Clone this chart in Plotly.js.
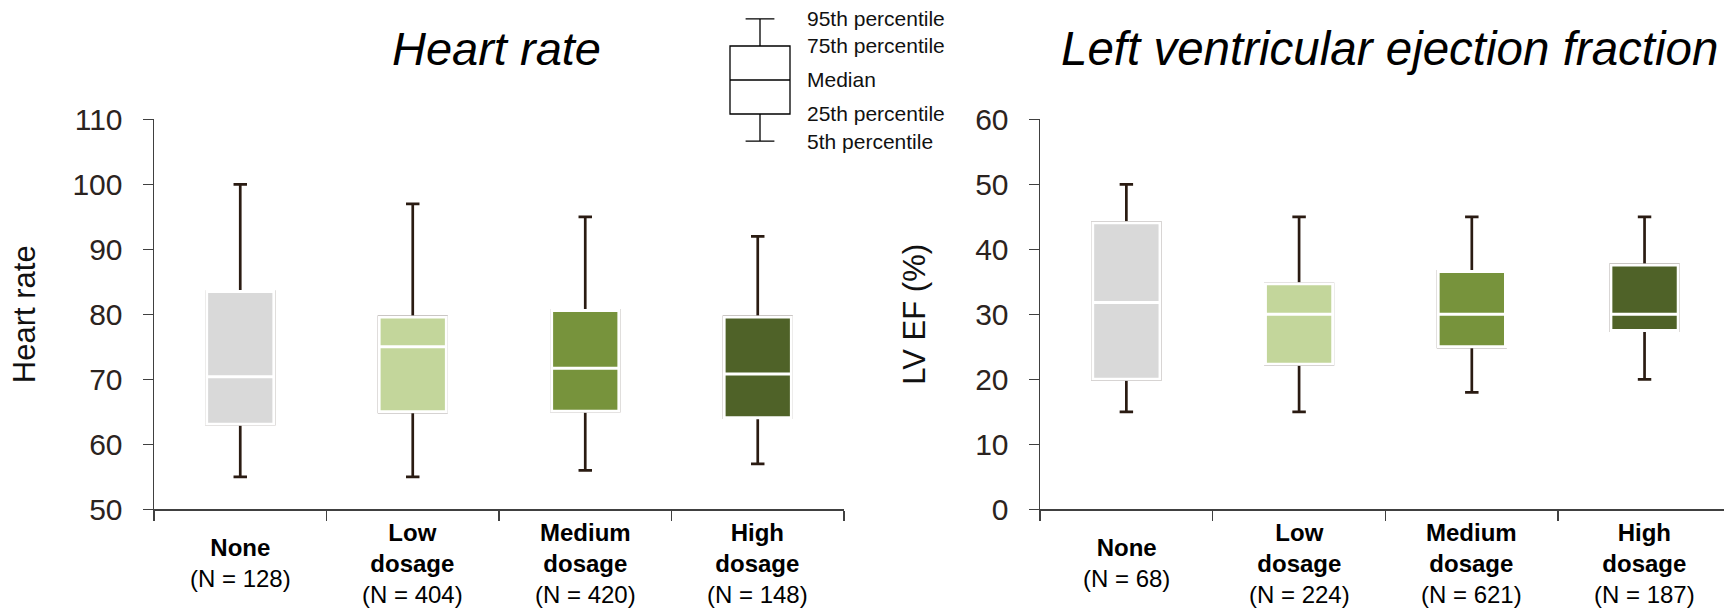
<!DOCTYPE html>
<html><head><meta charset="utf-8">
<script src="https://cdn.plot.ly/plotly-3.0.1.min.js"></script>
<style>html,body{margin:0;padding:0;background:#fff;} #chart{width:1724px;height:613px;}</style>
</head><body><div id="chart"></div>
<script>
// ---- data ----
const categories = ['None', 'Low dosage', 'Medium dosage', 'High dosage'];
const hrN = [128, 404, 420, 148];
const efN = [68, 224, 621, 187];

const hrP5     = [55, 55, 56, 57];
const hrP25    = [63.1, 65, 65.1, 64.1];
const hrMedian = [70.4, 75, 71.7, 70.8];
const hrP75    = [83.5, 79.6, 80.6, 79.6];
const hrP95    = [100, 97, 95, 92];

const efP5     = [15, 15, 18, 20];
const efP25    = [20, 22.3, 25, 27.5];
const efMedian = [31.8, 30, 30, 30];
const efP75    = [44.1, 34.7, 36.6, 37.6];
const efP95    = [50, 45, 45, 45];

const boxColors = ['#d9d9d9', '#c3d69b', '#77933c', '#4f6228'];

const keyPercentiles = [5, 25, 50, 75, 95];
const keyLabels = ['5th percentile', '25th percentile', 'Median', '75th percentile', '95th percentile'];

// ---- helpers ----
const FONT = 'Arial, "Liberation Sans", Helvetica, sans-serif';
const W = 1724, H = 613;
const BOXW = 0.39;
const WHISKER = '#2a1b12';
const AXIS = '#404040';
const TICKTXT = '#2b2320';

function boxTraces(p5, p25, med, p75, p95, xa, ya) {
  const out = [];
  // whiskers (drawn first, dark)
  out.push({
    type: 'box', x: categories, q1: p25, median: med, q3: p75,
    lowerfence: p5, upperfence: p95,
    xaxis: xa, yaxis: ya, width: BOXW, whiskerwidth: 0.2,
    line: {color: WHISKER, width: 2.7}, fillcolor: 'rgba(0,0,0,0)',
    boxpoints: false, hoverinfo: 'skip', showlegend: false
  });
  // coloured boxes with white median, on top
  categories.forEach((c, i) => {
    out.push({
      type: 'box', x: [c], q1: [p25[i]], median: [med[i]], q3: [p75[i]],
      lowerfence: [p25[i]], upperfence: [p75[i]],
      xaxis: xa, yaxis: ya, width: BOXW, whiskerwidth: 0,
      line: {color: '#ffffff', width: 3}, fillcolor: boxColors[i],
      boxpoints: false, hoverinfo: 'skip', showlegend: false
    });
  });
  return out;
}

function catLabel(c, n) {
  return c.split(' ').map(w => '<b>' + w + '</b>').join('<br>') + '<br>(N = ' + n + ')';
}

const data = []
  .concat(boxTraces(hrP5, hrP25, hrMedian, hrP75, hrP95, 'x', 'y'))
  .concat(boxTraces(efP5, efP25, efMedian, efP75, efP95, 'x2', 'y2'));

// key glyph
data.push({
  type: 'box', x: [0], q1: [keyPercentiles[1]], median: [keyPercentiles[2]], q3: [keyPercentiles[3]],
  lowerfence: [keyPercentiles[0]], upperfence: [keyPercentiles[4]],
  xaxis: 'x3', yaxis: 'y3', width: 1.5, whiskerwidth: 0.48,
  line: {color: '#000000', width: 1.3}, fillcolor: '#ffffff',
  boxpoints: false, hoverinfo: 'skip', showlegend: false
});

const yDom = [(H - 509.3) / H, (H - 119.3) / H];

function xAxis(domain, range, anchor) {
  return {
    domain: domain, anchor: anchor, type: 'category', range: range,
    showline: true, linecolor: AXIS, linewidth: 1.5,
    ticks: 'outside', tickson: 'boundaries', ticklen: 10, tickwidth: 1.5, tickcolor: AXIS,
    showticklabels: false, showgrid: false, zeroline: false, automargin: false, fixedrange: true
  };
}
function yAxis(range, anchor, title, standoff) {
  return {
    domain: yDom, anchor: anchor, range: range, tick0: range[0], dtick: 10,
    showline: true, linecolor: AXIS, linewidth: 1.5,
    ticks: 'outside', ticklen: 10, tickwidth: 1.5, tickcolor: AXIS,
    ticklabelstandoff: 14,
    tickfont: {family: FONT, size: 30, color: TICKTXT},
    title: {text: title, font: {family: FONT, size: 31, color: '#111111'}, standoff: standoff},
    showgrid: false, zeroline: false, automargin: false, fixedrange: true
  };
}

const LABEL_Y = (H - 563) / H;
const annotations = [];
categories.forEach((c, i) => {
  annotations.push({xref: 'x', yref: 'paper', x: c, y: LABEL_Y, yanchor: 'middle',
    text: catLabel(c, hrN[i]), showarrow: false, font: {family: FONT, size: 24, color: '#000'}});
  annotations.push({xref: 'x2', yref: 'paper', x: c, y: LABEL_Y, yanchor: 'middle',
    text: catLabel(c, efN[i]), showarrow: false, font: {family: FONT, size: 24, color: '#000'}});
});
annotations.push({xref: 'paper', yref: 'paper', x: 497 / W, y: (H - 49) / H, xanchor: 'center', yanchor: 'middle',
  text: '<i>Heart rate</i>', showarrow: false, font: {family: FONT, size: 47, color: '#000'}});
annotations.push({xref: 'paper', yref: 'paper', x: 1389 / W, y: (H - 49) / H, xanchor: 'center', yanchor: 'middle',
  text: '<i>Left ventricular ejection fraction</i>', showarrow: false, font: {family: FONT, size: 47.5, color: '#000'}});

const layout = {
  width: W, height: H,
  margin: {l: 0, r: 0, t: 0, b: 0, pad: 0},
  paper_bgcolor: '#ffffff', plot_bgcolor: 'rgba(0,0,0,0)',
  boxmode: 'overlay', showlegend: false,
  font: {family: FONT},
  xaxis: xAxis([154 / W, 844 / W], [-0.5, 3.5], 'y'),
  yaxis: yAxis([50, 110], 'x', 'Heart rate', 27),
  xaxis2: xAxis([1040 / W, 1], [-0.5, 3.46], 'y2'),
  yaxis2: yAxis([0, 60], 'x2', 'LV EF (%)', 40),
  xaxis3: {domain: [720 / W, 800 / W], range: [-1, 1], anchor: 'y3', visible: false, fixedrange: true},
  yaxis3: {domain: [(H - 148) / H, (H - 12) / H], range: [0, 100], anchor: 'x3', side: 'right',
    showline: false, ticks: '', tickvals: keyPercentiles, ticktext: keyLabels,
    ticklabelstandoff: 6,
    tickfont: {family: FONT, size: 21, color: '#111111'},
    showgrid: false, zeroline: false, automargin: false, fixedrange: true},
  annotations: annotations
};

Plotly.newPlot('chart', data, layout, {displayModeBar: false, staticPlot: true});
</script>
</body></html>
